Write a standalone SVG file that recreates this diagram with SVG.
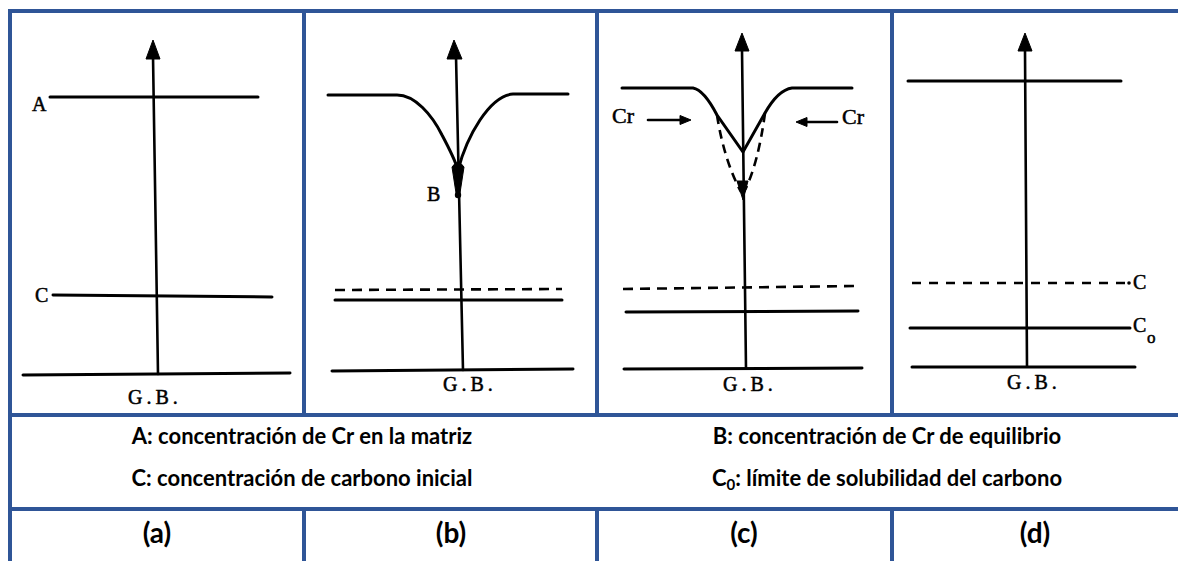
<svg xmlns="http://www.w3.org/2000/svg" width="1178" height="561" viewBox="0 0 1178 561">
<defs>
<style>
.grid{stroke:#2F5597;stroke-width:4;fill:none}
.ln{stroke:#000;stroke-width:3;fill:none;stroke-linecap:round}
.sh{stroke:#000;stroke-width:2.6;fill:none;stroke-linecap:round}
.ds{stroke:#000;stroke-width:2.6;fill:none;stroke-dasharray:10 7}
.hd{fill:#000;stroke:#000;stroke-width:1;stroke-linejoin:round}
.lb{font-family:"Liberation Serif",serif;font-size:20px;fill:#000;stroke:#000;stroke-width:0.5}
.gb{font-family:"Liberation Serif",serif;font-size:20px;fill:#000;stroke:#000;stroke-width:0.5;letter-spacing:4px}
.cap{font-family:Lato,"Liberation Sans",sans-serif;font-weight:bold;font-size:22px;fill:#000;text-anchor:middle}
.ttl{font-family:Lato,"Liberation Sans",sans-serif;font-weight:bold;font-size:28px;fill:#000;text-anchor:middle}
</style>
</defs>
<rect width="1178" height="561" fill="#fff"/>
<g id="table">
<line class="grid" x1="8" y1="11" x2="1178" y2="11"/>
<line class="grid" x1="10" y1="9" x2="10" y2="561"/>
<line class="grid" x1="8" y1="415" x2="1178" y2="415"/>
<line class="grid" x1="8" y1="509" x2="1178" y2="509"/>
<line class="grid" x1="304" y1="11" x2="304" y2="415"/>
<line class="grid" x1="597" y1="11" x2="597" y2="415"/>
<line class="grid" x1="892" y1="11" x2="892" y2="415"/>
<line class="grid" x1="304" y1="509" x2="304" y2="561"/>
<line class="grid" x1="597" y1="509" x2="597" y2="561"/>
<line class="grid" x1="892" y1="509" x2="892" y2="561"/>
</g>
<g id="panel-a">
<line class="ln" x1="50" y1="97" x2="258" y2="97"/>
<line class="ln" x1="53" y1="295" x2="272" y2="297"/>
<line class="ln" x1="23" y1="375" x2="290" y2="373"/>
<line class="sh" x1="153" y1="56" x2="158" y2="374"/>
<polygon class="hd" points="153,40 146,59 160,59"/>
<text class="lb" x="32" y="111">A</text>
<text class="lb" x="35" y="302">C</text>
<text class="gb" x="128" y="404">G.B.</text>
</g>
<g id="panel-b">
<path class="ln" d="M328,95 L397,95 C415,95 432,115 442,135 C450,150 455,160 458,170"/>
<path class="ln" d="M568,94 L513,94 C500,95 490,105 480,120 C470,135 462,155 458,170"/>
<path class="hd" d="M452,167 Q458,158 464,167 L460,193 L456,193 Z"/>
<circle cx="458" cy="195" r="3.2" fill="#000"/>
<line class="sh" x1="456" y1="56" x2="463" y2="370"/>
<polygon class="hd" points="454,40 447,59 462,59"/>
<line class="ds" x1="335" y1="290" x2="562" y2="289"/>
<line class="ln" x1="335" y1="300" x2="562" y2="300"/>
<line class="ln" x1="332" y1="371" x2="573" y2="369"/>
<text class="lb" x="427" y="201">B</text>
<text class="gb" x="443" y="391">G.B.</text>
</g>
<g id="panel-c">
<path class="ln" d="M622,88 L693,88 Q704,90 717,115 L743,152 L765,113 Q778,90 792,88 L852,88"/>
<path class="ds" style="stroke-dasharray:9 6" d="M717,115 Q724,160 741,192"/>
<path class="ds" style="stroke-dasharray:9 6" d="M765,113 Q758,165 744,192"/>
<polygon class="hd" points="737,181 748,181 743,200"/>
<line class="sh" x1="742" y1="50" x2="746" y2="368"/>
<polygon class="hd" points="742,33 735,51 749,51"/>
<line class="ds" x1="623" y1="289" x2="855" y2="286"/>
<line class="ln" x1="626" y1="312" x2="858" y2="311"/>
<line class="ln" x1="624" y1="369" x2="862" y2="368"/>
<text class="lb" x="612" y="123" style="font-size:22px">Cr</text>
<line class="sh" x1="648" y1="120" x2="682" y2="120"/>
<polygon class="hd" points="691,120 680,115.5 680,124.5"/>
<text class="lb" x="842" y="124" style="font-size:22px">Cr</text>
<line class="sh" x1="837" y1="122" x2="805" y2="122"/>
<polygon class="hd" points="796,122 807,117.5 807,126.5"/>
<text class="gb" x="723" y="391">G.B.</text>
</g>
<g id="panel-d">
<line class="ln" x1="908" y1="81" x2="1121" y2="81"/>
<line class="ds" style="stroke-dasharray:9 8" x1="912" y1="283" x2="1128" y2="283"/>
<circle cx="1129" cy="283" r="1.8" fill="#000"/>
<line class="ln" x1="910" y1="328" x2="1130" y2="328"/>
<line class="ln" x1="912" y1="367" x2="1135" y2="367"/>
<line class="sh" x1="1025" y1="50" x2="1027" y2="366"/>
<polygon class="hd" points="1025,33 1018,51 1032,51"/>
<text class="lb" x="1133" y="289">C</text>
<text class="lb" x="1133" y="332">C</text>
<text class="lb" x="1147" y="343" style="font-size:17px">o</text>
<text class="gb" x="1007" y="389">G.B.</text>
</g>
<g id="captions">
<text class="cap" x="302" y="444">A: concentración de Cr en la matriz</text>
<text class="cap" x="302" y="486">C: concentración de carbono inicial</text>
<text class="cap" x="887" y="444">B: concentración de Cr de equilibrio</text>
<text class="cap" x="887" y="486">C<tspan style="font-size:15px" dy="4">0</tspan><tspan dy="-4">: límite de solubilidad del carbono</tspan></text>
<text class="ttl" x="157" y="543">(a)</text>
<text class="ttl" x="451" y="543">(b)</text>
<text class="ttl" x="744" y="543">(c)</text>
<text class="ttl" x="1035" y="543">(d)</text>
</g>
</svg>
